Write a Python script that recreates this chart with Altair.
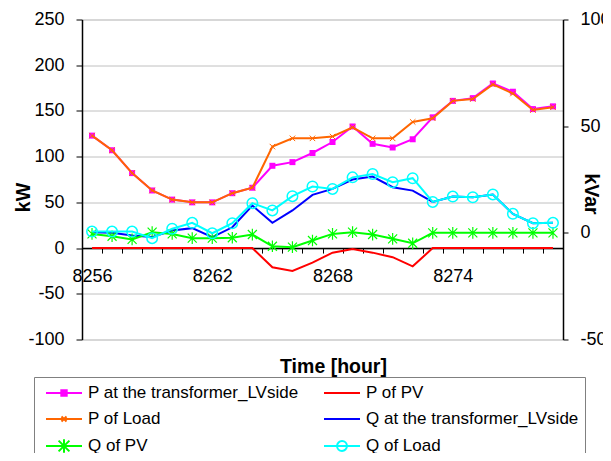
import altair as alt
import pandas as pd

FONT = "Liberation Sans"

hours = list(range(8256, 8280))
series_names = [
    "P at the transformer_LVside",
    "P of PV",
    "P of Load",
    "Q at the transformer_LVside",
    "Q of PV",
    "Q of Load",
]
series_colors = ["#FF00FF", "#FF0000", "#FF6600", "#0000FF", "#00FF00", "#00FFFF"]

p_trans = [123, 107, 82, 63, 53, 50, 50, 60, 66, 90, 94, 104, 116, 133, 114, 110, 119, 143, 161, 164, 180, 171, 152, 155]
p_pv = [0, 0, 0, 0, 0, 0, 0, 0, 0, -21, -25, -16, -5, -1, -5, -10, -20, 0, 0, 0, 0, 0, 0, 0]
p_load = [123, 107, 82, 63, 53, 50, 50, 60, 66, 111, 120, 120, 122, 132, 120, 120, 138, 142, 161, 163, 179, 169, 151, 154]
q_trans = [0.3, 0, -1.3, -2, 1.1, 2.2, -2, 2.6, 12.8, 4.7, 10.5, 17.8, 20.6, 25, 26.4, 21.4, 19.8, 14.5, 17, 16.7, 18, 8.9, 4.5, 4.7]
q_pv = [-0.5, -1.6, -3.1, 0.3, -0.5, -2.5, -2.5, -2.3, -0.8, -6.3, -6.7, -3.6, -0.5, 0.3, -0.8, -2.8, -4.9, 0, 0, 0, 0, 0, 0, 0]
q_load = [0.6, 0.6, 0.6, -2.5, 1.9, 4.7, -0.2, 4.5, 13.9, 10.5, 17.2, 21.7, 20.6, 26, 27.6, 23.7, 25.6, 14.5, 17, 16.7, 18, 8.9, 4.5, 4.7]

all_values = [p_trans, p_pv, p_load, q_trans, q_pv, q_load]
frames = [pd.DataFrame({"hour": hours, "series": n, "value": v}) for n, v in zip(series_names, all_values)]
df = pd.concat(frames, ignore_index=True)

legend_df = pd.DataFrame({"hour": [hours[0]] * 6, "series": series_names, "value": [None] * 6})

HYPHEN = "'' + datum.value"

axis_x = alt.Axis(
    title="Time [hour]", offset=-91.43,
    labelExpr="(datum.value - 8256) % 6 == 0 ? datum.label : ''",
    labelAngle=0, labelFont=FONT, labelFontSize=18, labelColor="black", labelPadding=14,
    labelOverlap=False, tickBand="extent", tickSize=5, tickColor="black", tickWidth=1,
    domainColor="black", domainWidth=1.5, grid=False,
    titleFont=FONT, titleFontSize=19.5, titleFontWeight="bold", titleColor="black",
    titleX=251, titleY=118, titleBaseline="middle", titleAlign="center",
)
x_enc = alt.X("hour:O", scale=alt.Scale(type="band", paddingInner=0, paddingOuter=0),
              bandPosition=0.5, axis=axis_x)

axis_left = alt.Axis(
    title="kW", values=[-100, -50, 0, 50, 100, 150, 200, 250], grid=True, gridColor="#C0C0C0",
    gridWidth=1, domainColor="black", domainWidth=1.5, tickColor="black", tickSize=6,
    labelFont=FONT, labelFontSize=18, labelColor="black", labelPadding=12, labelExpr=HYPHEN,
    titleFont=FONT, titleFontSize=19.5, titleFontWeight="bold", titleColor="black",
    titleAngle=270, titleX=-58.5, titleY=177.5, titleAlign="center", titleBaseline="middle",
)
y_left = alt.Y("value:Q", scale=alt.Scale(domain=[-100, 250], nice=False, zero=False), axis=axis_left)

axis_right = alt.Axis(
    orient="right", title="kVar", values=[-50, 0, 50, 100], grid=False,
    domainColor="black", domainWidth=1.5, tickColor="black", tickSize=5,
    labelFont=FONT, labelFontSize=18, labelColor="black", labelPadding=12, labelExpr=HYPHEN,
    titleFont=FONT, titleFontSize=19.5, titleFontWeight="bold", titleColor="black",
    titleAngle=90, titleX=27, titleY=174, titleAlign="center", titleBaseline="middle",
)
y_right = alt.Y("value:Q", scale=alt.Scale(domain=[-50, 100], nice=False, zero=False), axis=axis_right)

base = alt.Chart(df)


def line(name, color, y):
    return base.transform_filter(alt.datum.series == name).mark_line(
        color=color, strokeWidth=2).encode(x=x_enc, y=y)


X_PATH = "M-1,-1L1,1M-1,1L1,-1"
AST_PATH = "M-1,-1L1,1M-1,1L1,-1M0,-1.3L0,1.3"

p_trans_pts = base.transform_filter(alt.datum.series == series_names[0]).mark_point(
    shape="square", size=36, filled=True, color=series_colors[0], opacity=1).encode(x=x_enc, y=y_left)
p_load_pts = base.transform_filter(alt.datum.series == series_names[2]).mark_point(
    shape=X_PATH, size=30, filled=False, color=series_colors[2], strokeWidth=1, opacity=1).encode(x=x_enc, y=y_left)
q_pv_pts = base.transform_filter(alt.datum.series == series_names[4]).mark_point(
    shape=AST_PATH, size=81, filled=False, color=series_colors[4], strokeWidth=1.2, opacity=1).encode(x=x_enc, y=y_right)
q_load_pts = base.transform_filter(alt.datum.series == series_names[5]).mark_point(
    shape="circle", size=110, filled=False, color=series_colors[5], strokeWidth=1.5, opacity=1).encode(x=x_enc, y=y_right)

# legend symbols: line + marker, symbol center 10px from entry left, unit = 9px
L0, L1, C = -0.444, 3.556, 1.556
legend_paths = [
    f"M{L0},0H{L1}M{C-0.3},-0.3H{C+0.3}V0.3H{C-0.3}Z",
    f"M{L0},0H{L1}",
    f"M{L0},0H{L1}M{C-0.28},-0.28L{C+0.28},0.28M{C-0.28},0.28L{C+0.28},-0.28",
    f"M{L0},0H{L1}",
    f"M{L0},0H{L1}M{C-0.6},-0.6L{C+0.6},0.6M{C-0.6},0.6L{C+0.6},-0.6M{C},-0.75L{C},0.75",
    f"M{L0},0H{L1}M{C+0.55},0A0.55,0.55 0 1,1 {C-0.55},0A0.55,0.55 0 1,1 {C+0.55},0Z",
]
legend_fills = ["#FF00FF", "transparent", "transparent", "transparent", "transparent", "transparent"]

leg = alt.Legend(
    title=None, orient="none", legendX=-48, legendY=357.5, columns=2, direction="horizontal",
    columnPadding=19, rowPadding=8, padding=6, strokeColor="#808080", fillColor="white",
    labelFont=FONT, labelFontSize=17, labelColor="black", labelOffset=28, labelLimit=400,
    symbolSize=324, symbolStrokeWidth=2, symbolOpacity=1,
)
legend_layer = alt.Chart(legend_df).mark_point(opacity=1).encode(
    x=x_enc, y=y_left,
    shape=alt.Shape("series:N", scale=alt.Scale(domain=series_names, range=legend_paths), legend=leg),
    stroke=alt.Stroke("series:N", scale=alt.Scale(domain=series_names, range=series_colors), legend=leg),
    fill=alt.Fill("series:N", scale=alt.Scale(domain=series_names, range=legend_fills), legend=leg),
)

left = alt.layer(
    line(series_names[0], series_colors[0], y_left), p_trans_pts,
    line(series_names[1], series_colors[1], y_left),
    line(series_names[2], series_colors[2], y_left), p_load_pts,
    legend_layer,
)
right = alt.layer(
    line(series_names[3], series_colors[3], y_right),
    line(series_names[4], series_colors[4], y_right), q_pv_pts,
    line(series_names[5], series_colors[5], y_right), q_load_pts,
)

chart = alt.layer(left, right).resolve_scale(y="independent").properties(
    width=481, height=320,
    autosize=alt.AutoSizeParams(type="none"),
    padding={"left": 74, "top": 11.5, "right": 40, "bottom": 113.5},
).configure_view(stroke="#909090", strokeWidth=1).configure(font=FONT)

chart.save("out.html", embed_options={"renderer": "svg", "actions": False})
